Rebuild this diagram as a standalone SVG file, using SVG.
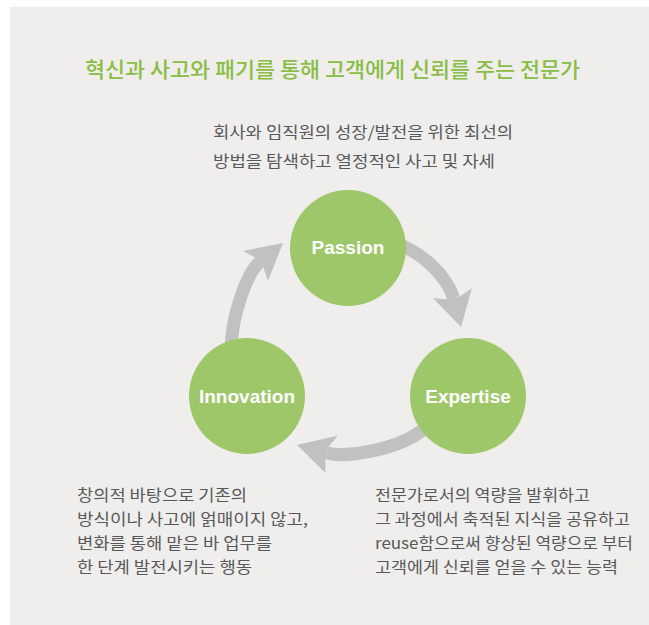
<svg xmlns="http://www.w3.org/2000/svg" width="649" height="625" viewBox="0 0 649 625">
<style>
.bg{fill:#efeeec}
.title{font-family:"Noto Sans CJK KR","Noto Sans",sans-serif;font-size:21px;fill:#89bd44;font-weight:500}
.desc{font-family:"Noto Sans CJK KR","Noto Sans",sans-serif;font-size:16px;fill:#58585a}
.node circle{fill:#9ec769}
.node text{font-family:"Liberation Sans",Arial,sans-serif;font-weight:bold;font-size:19px;fill:#ffffff;text-anchor:middle}
.shaft{fill:none;stroke:#c1c1c4;stroke-width:13;stroke-linecap:butt}
.head{fill:#c1c1c4}
</style>
<rect class="bg" x="10" y="7" width="639" height="618"/>
<text class="title" x="85" y="77" textLength="495" lengthAdjust="spacingAndGlyphs">혁신과 사고와 패기를 통해 고객에게 신뢰를 주는 전문가</text>
<g id="desc-passion">
<text class="desc" x="213" y="138" textLength="300" lengthAdjust="spacingAndGlyphs">회사와 임직원의 성장/발전을 위한 최선의</text>
<text class="desc" x="213" y="167" textLength="282" lengthAdjust="spacingAndGlyphs">방법을 탐색하고 열정적인 사고 및 자세</text>
</g>
<g id="connectors">
<path class="shaft" d="M231,352 C231,315 247.8,272.1 259.3,262.5"/>
<polygon class="head" points="283,243 243,251 255,257.6 263.4,267.4 268,281"/>
<path class="shaft" d="M398,244 C420,252 446,274 453.5,298"/>
<polygon class="head" points="461,327 433,298 447.2,299.6 459.8,296.4 472,288"/>
<path class="shaft" d="M425,428 C400,450 345,458 327,453"/>
<polygon class="head" points="297,445 338,435.5 328.5,446.8 325.3,459.2 325.5,473"/>
</g>
<g id="passion" class="node">
<circle cx="348" cy="248" r="58"/>
<text x="348" y="254">Passion</text>
</g>
<g id="innovation" class="node">
<circle cx="247" cy="396" r="58"/>
<text x="247" y="403">Innovation</text>
</g>
<g id="expertise" class="node">
<circle cx="468" cy="396" r="58"/>
<text x="468" y="403">Expertise</text>
</g>
<g id="desc-innovation">
<text class="desc" x="77" y="501" textLength="170" lengthAdjust="spacingAndGlyphs">창의적 바탕으로 기존의</text>
<text class="desc" x="77" y="525" textLength="231" lengthAdjust="spacingAndGlyphs">방식이나 사고에 얽매이지 않고,</text>
<text class="desc" x="77" y="549" textLength="195" lengthAdjust="spacingAndGlyphs">변화를 통해 맡은 바 업무를</text>
<text class="desc" x="77" y="573" textLength="175" lengthAdjust="spacingAndGlyphs">한 단계 발전시키는 행동</text>
</g>
<g id="desc-expertise">
<text class="desc" x="375" y="501" textLength="215" lengthAdjust="spacingAndGlyphs">전문가로서의 역량을 발휘하고</text>
<text class="desc" x="375" y="525" textLength="255" lengthAdjust="spacingAndGlyphs">그 과정에서 축적된 지식을 공유하고</text>
<text class="desc" x="375" y="549" textLength="258" lengthAdjust="spacingAndGlyphs">reuse함으로써 향상된 역량으로 부터</text>
<text class="desc" x="375" y="573" textLength="243" lengthAdjust="spacingAndGlyphs">고객에게 신뢰를 얻을 수 있는 능력</text>
</g>
</svg>
